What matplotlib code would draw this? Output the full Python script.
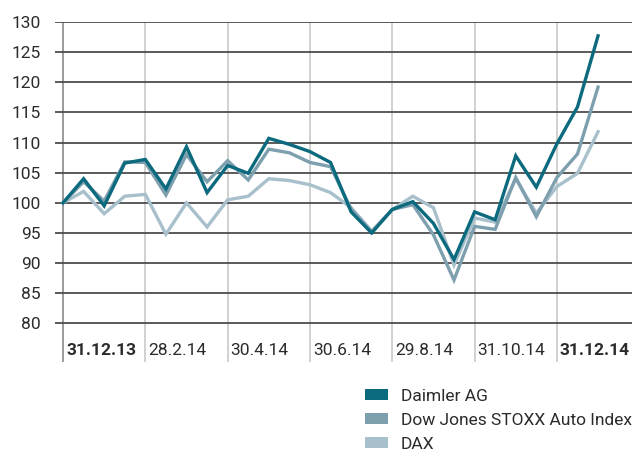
import matplotlib
matplotlib.use("Agg")
import matplotlib.pyplot as plt
from matplotlib.patches import Patch

plt.rcParams['font.family'] = ['Roboto', 'DejaVu Sans']

# indexed performance, 31.12.13 = 100, roughly biweekly points
daimler = [100, 104.0, 99.5, 106.6, 107.2, 102.3, 109.3, 101.7, 106.2, 104.9,
           110.7, 109.7, 108.5, 106.7, 98.5, 95.0, 98.9, 100.2, 96.6, 90.6,
           98.5, 97.2, 107.8, 102.6, 109.8, 115.9, 127.7]
stoxx_auto = [100, 103.5, 100.3, 106.8, 106.7, 101.3, 108.0, 103.5, 107.0, 103.8,
              108.9, 108.3, 106.7, 106.0, 99.0, 95.2, 98.9, 99.7, 94.7, 87.2,
              96.1, 95.6, 104.2, 97.7, 104.2, 108.1, 119.2]
dax = [100, 101.9, 98.2, 101.1, 101.4, 94.8, 100.0, 96.0, 100.5, 101.1,
       104.0, 103.7, 103.0, 101.7, 99.2, 95.3, 98.9, 101.1, 99.2, 89.7,
       97.5, 96.8, 104.0, 98.3, 102.7, 104.9, 111.8]

series_names = ['Daimler AG', 'Dow Jones STOXX Auto Index', 'DAX']
series_colors = ['#0b6a7d', '#7d9fae', '#a8bfcc']

date_labels = ['31.12.13', '28.2.14', '30.4.14', '30.6.14', '29.8.14', '31.10.14', '31.12.14']
date_pos = [0, 4, 8, 12, 16, 20, 24]
y_ticks = [80, 85, 90, 95, 100, 105, 110, 115, 120, 125, 130]

fig = plt.figure(figsize=(6.32, 4.53), dpi=100)
ax = fig.add_axes([55 / 632, 91 / 453, 577 / 632, 340 / 453])

x0, x1 = -0.39, 27.65
ax.set_xlim(x0, x1)
ax.set_ylim(73.6, 130)

# horizontal grid
ax.hlines(y_ticks, x0, x1, colors='#4d4d4d', linewidth=1.3, zorder=1)
# vertical separators at the date marks
for p in date_pos:
    ax.axvline(p, color='#8a8a8a' if p == 0 else '#c9c9c9', linewidth=1.2, zorder=0.5)

x = list(range(len(daimler)))
for vals, c in zip([dax, stoxx_auto, daimler], series_colors[::-1]):
    ax.plot(x, vals, color=c, linewidth=2.4, solid_joinstyle='miter', zorder=3)

for p, lab in zip(date_pos, date_labels):
    bold = lab in ('31.12.13', '31.12.14')
    ax.text(p + 0.15, 75.5, lab, ha='left', va='center', fontsize=12.5,
            fontweight='bold' if bold else 'normal', color='#2b2b2b')

ax.set_xticks([])
ax.set_yticks(y_ticks)
ax.set_yticklabels([str(v) for v in y_ticks], fontsize=12.5, color='#2b2b2b')
ax.tick_params(axis='y', length=0, pad=10)
for s in ax.spines.values():
    s.set_visible(False)

handles = [Patch(facecolor=c, edgecolor='none') for c in series_colors]
fig.legend(handles, series_names, loc='upper left',
           bbox_to_anchor=(365 / 632, 1 - 389 / 453), frameon=False,
           fontsize=12.5, handlelength=1.35, handleheight=0.6,
           handletextpad=0.7, labelspacing=0.52, borderaxespad=0,
           borderpad=0, labelcolor='#2b2b2b')

fig.savefig('out.png', dpi=100)
